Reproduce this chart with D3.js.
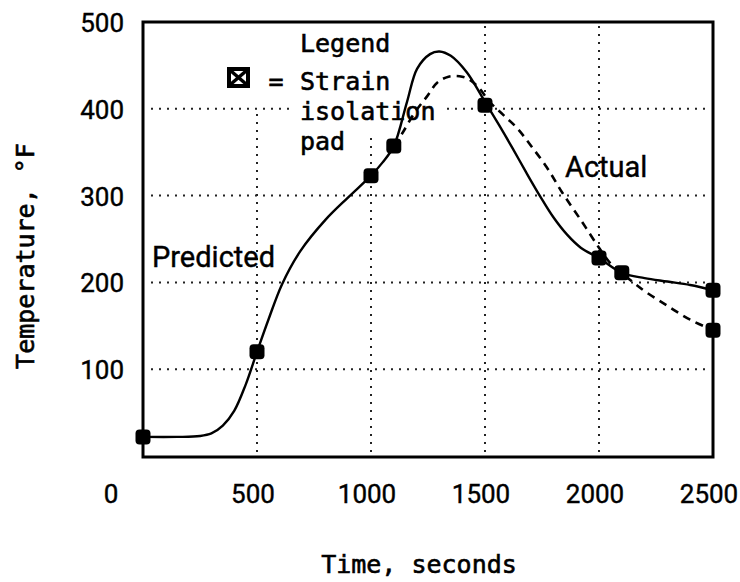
<!DOCTYPE html>
<html>
<head>
<meta charset="utf-8">
<script src="https://cdn.jsdelivr.net/npm/d3@7"></script>
<style>
  html, body { margin: 0; padding: 0; background: #fff; }
  svg { display: block; }
</style>
</head>
<body>
<svg id="chart" width="740" height="582"></svg>
<script>
// ---- data ----
const xTicks = [0, 500, 1000, 1500, 2000, 2500];
const yTicks = [100, 200, 300, 400, 500];
const xGrid = [500, 1000, 1500, 2000];
const yGrid = [100, 200, 300, 400];

// Predicted (solid) curve: time (s), temperature (°F)
const predTime = [0, 150, 250, 300, 350, 400, 450, 500, 550, 610, 690, 800, 900, 1000, 1050, 1100, 1158, 1202, 1259, 1300, 1350, 1420, 1500, 1560, 1620, 1680, 1740, 1800, 1860, 1920, 2000, 2100, 2200, 2300, 2400, 2500];
const predTemp = [22, 22, 23, 26, 35, 52, 82, 120, 157, 198, 236, 272, 298, 323, 338, 357, 408, 446, 463, 466, 461, 442, 408, 382, 355, 327, 300, 275, 255, 240, 228, 211, 205, 201, 197, 191];

// Actual (dashed) curve
const actTime = [1100, 1140, 1190, 1245, 1290, 1340, 1400, 1440, 1480, 1520, 1580, 1640, 1700, 1770, 1840, 1925, 2000, 2050, 2100, 2150, 2200, 2300, 2400, 2500];
const actTemp = [357, 373, 395, 414, 430, 437, 437, 432, 422, 408, 393, 378, 358, 333, 303, 270, 240, 222, 211, 200, 190, 173, 157, 145];

// Strain isolation pad markers
const padTime = [0, 500, 1000, 1100, 1500, 2000, 2100, 2500, 2500];
const padTemp = [22, 120, 323, 357, 404, 228, 211, 191, 145];

const legendTitle = "Legend";
const legendLines = ["Strain", "isolation", "pad"];
const xTitle = "Time, seconds";
const yTitle = "Temperature, °F";

// ---- drawing ----
const svg = d3.select("#chart");
const x = d3.scaleLinear().domain([0, 2500]).range([143, 713]);
const y = d3.scaleLinear().domain([0, 500]).range([456, 22]);

const mono = "'DejaVu Sans Mono', monospace";
const sans = "Roboto, 'DejaVu Sans', sans-serif";

// grid
const grid = svg.append("g").attr("stroke", "#222").attr("stroke-width", 2)
  .attr("stroke-dasharray", "2,6").attr("fill", "none");
grid.selectAll("line.h").data(yGrid).join("line").attr("class", "h")
  .attr("x1", x(0) + 8).attr("x2", x(2500) - 4)
  .attr("y1", d => y(d)).attr("y2", d => y(d));
grid.selectAll("line.v").data(xGrid).join("line").attr("class", "v")
  .attr("x1", d => x(d)).attr("x2", d => x(d))
  .attr("y1", y(0) - 4)
  .attr("y2", d => d <= 1000 ? y(400) : y(500) + 4);

// white background behind legend text (interrupts grid)
svg.append("rect").attr("x", 292).attr("y", 96).attr("width", 150).attr("height", 38).attr("fill", "#fff");

// frame
svg.append("rect")
  .attr("x", x(0)).attr("y", y(500))
  .attr("width", x(2500) - x(0)).attr("height", y(0) - y(500) + 1)
  .attr("fill", "none").attr("stroke", "#000").attr("stroke-width", 3);

// curves
const line = d3.line().x(d => x(d[0])).y(d => y(d[1])).curve(d3.curveCatmullRom.alpha(0.5));
const predData = predTime.map((t, i) => [t, predTemp[i]]);
const actData = actTime.map((t, i) => [t, actTemp[i]]);

svg.append("path").datum(actData).attr("d", line)
  .attr("fill", "none").attr("stroke", "#000").attr("stroke-width", 2.6)
  .attr("stroke-dasharray", "8,6");
svg.append("path").datum(predData).attr("d", line)
  .attr("fill", "none").attr("stroke", "#000").attr("stroke-width", 2.4);

// markers
const ms = 15;
svg.selectAll("rect.pad").data(padTime.map((t, i) => [t, padTemp[i]])).join("rect")
  .attr("class", "pad")
  .attr("x", d => x(d[0]) - ms / 2).attr("y", d => y(d[1]) - ms / 2)
  .attr("width", ms).attr("height", ms).attr("rx", 4)
  .attr("fill", "#000");

// text helper: slightly heavier strokes like the scanned original
function txt(sel, w) { return sel.attr("fill", "#000").attr("stroke", "#000").attr("stroke-width", w); }

// tick labels
txt(svg.selectAll("text.xt").data(xTicks).join("text").attr("class", "xt")
  .attr("x", d => d === 0 ? x(0) - 32 : x(d) - 4)
  .attr("y", 503)
  .attr("text-anchor", "middle")
  .attr("font-family", sans).attr("font-size", 26)
  .text(d => d), 0.4);
txt(svg.selectAll("text.yt").data(yTicks).join("text").attr("class", "yt")
  .attr("x", 124)
  .attr("y", d => y(d) + 10)
  .attr("text-anchor", "end")
  .attr("font-family", sans).attr("font-size", 26)
  .text(d => d), 0.4);

// axis titles
txt(svg.append("text").attr("x", 419).attr("y", 573)
  .attr("text-anchor", "middle").attr("font-family", mono).attr("font-size", 25)
  .text(xTitle), 0.6);
txt(svg.append("text").attr("transform", "translate(34,256) rotate(-90)")
  .attr("text-anchor", "middle").attr("font-family", mono).attr("font-size", 25)
  .text(yTitle), 0.6);

// series labels
txt(svg.append("text").attr("x", 152).attr("y", 267)
  .attr("font-family", sans).attr("font-size", 29).text("Predicted"), 0.4);
txt(svg.append("text").attr("x", 565).attr("y", 177)
  .attr("font-family", sans).attr("font-size", 29).text("Actual"), 0.4);

// legend
txt(svg.append("text").attr("x", 300).attr("y", 52)
  .attr("font-family", mono).attr("font-size", 25).text(legendTitle), 0.6);
const lgBase = [90, 120, 150];
txt(svg.selectAll("text.lg").data(legendLines).join("text").attr("class", "lg")
  .attr("x", 300).attr("y", (d, i) => lgBase[i])
  .attr("font-family", mono).attr("font-size", 25).text(d => d), 0.6);
txt(svg.append("text").attr("x", 276).attr("y", 90).attr("text-anchor", "middle")
  .attr("font-family", mono).attr("font-size", 25).text("="), 0.6);
// legend symbol (boxed X)
const sym = svg.append("g").attr("transform", "translate(227,67)");
sym.append("rect").attr("width", 23).attr("height", 21).attr("fill", "#000");
sym.append("rect").attr("x", 4).attr("y", 4).attr("width", 15).attr("height", 13).attr("fill", "#fff");
sym.append("line").attr("x1", 4).attr("y1", 4).attr("x2", 19).attr("y2", 17).attr("stroke", "#000").attr("stroke-width", 3.5);
sym.append("line").attr("x1", 19).attr("y1", 4).attr("x2", 4).attr("y2", 17).attr("stroke", "#000").attr("stroke-width", 3.5);
</script>
</body>
</html>
